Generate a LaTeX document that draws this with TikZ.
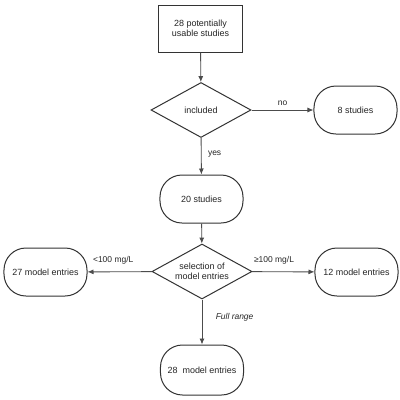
\documentclass[tikz,border=0pt]{standalone}
\usepackage{fontspec}
\setmainfont{Liberation Sans}
\usetikzlibrary{shapes.geometric,arrows.meta}
\begin{document}
\begin{tikzpicture}[x=1bp,y=-1bp,
  every node/.style={font=\fontsize{9}{10.5}\selectfont, text=black!85},
  rectbox/.style={draw=black!80, line width=1bp, minimum width=83bp, minimum height=47bp, align=center, inner sep=2bp},
  roundbox/.style={draw=black!80, line width=1bp, rounded corners=22bp, minimum width=83bp, minimum height=48bp, align=center, inner sep=2bp},
  decision/.style={draw=black!80, line width=1bp, diamond, aspect=1.82, minimum width=100bp, minimum height=55bp, inner sep=0pt, align=center},
  conn/.style={draw=black!70, line width=0.9bp, -{Latex[length=6bp,width=5bp]}},
  lbl/.style={font=\fontsize{8.5}{10}\selectfont}
]
\fill[white] (0,0) rectangle (400,400);
\useasboundingbox (0,0) rectangle (400,400);

\node[rectbox] (start) at (200.5,28.5) {28 potentially\\usable studies};
\node[decision] (incl) at (201,110) {included};
\node[roundbox] (eight) at (355.5,110) {8 studies};
\node[roundbox] (twenty) at (201.5,199) {20 studies};
\node[decision] (sel) at (202,271.5) {selection of\\model entries};
\node[roundbox] (left) at (45.5,272) {27 model entries};
\node[roundbox] (right) at (356.5,272) {12 model entries};
\node[roundbox, minimum height=50bp] (bottom) at (202,370) {28\ \ model entries};

\draw[conn] (start) -- (incl);
\draw[conn] (incl) -- node[lbl, above=1bp] {no} (eight);
\draw[conn] (incl) -- node[lbl, right=3bp, pos=0.45] {yes} (twenty);
\draw[conn] (twenty) -- (sel);
\draw[conn] (sel) -- node[lbl, above=4bp, pos=0.6] {<100 mg/L} (left);
\draw[conn] (sel) -- node[lbl, above=4bp, pos=0.35] {≥100 mg/L} (right);
\draw[conn] (sel) -- node[lbl, right=10bp, pos=0.4, font=\fontsize{8.5}{10}\selectfont\itshape] {Full range} (bottom);
\end{tikzpicture}
\end{document}
